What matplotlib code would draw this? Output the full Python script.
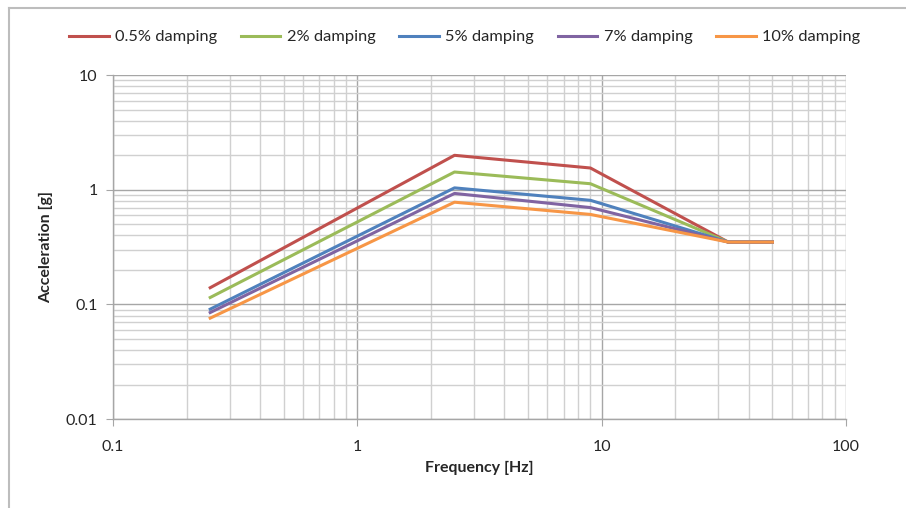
import matplotlib
matplotlib.use("Agg")
import matplotlib.pyplot as plt
from matplotlib.lines import Line2D
from matplotlib.ticker import LogLocator, FixedLocator, NullFormatter

plt.rcParams['font.family'] = ['Lato', 'DejaVu Sans']

# Response spectrum corner frequencies [Hz]
freq = [0.25, 2.5, 9, 33, 50]

# Spectral acceleration [g] per damping ratio
acc_05 = [0.14, 2.0, 1.55, 0.35, 0.35]
acc_2 = [0.115, 1.43, 1.13, 0.35, 0.35]
acc_5 = [0.091, 1.04, 0.81, 0.35, 0.35]
acc_7 = [0.085, 0.93, 0.70, 0.35, 0.35]
acc_10 = [0.076, 0.78, 0.61, 0.35, 0.35]

series_labels = ["0.5% damping", "2% damping", "5% damping", "7% damping", "10% damping"]
series_values = [acc_05, acc_2, acc_5, acc_7, acc_10]
series_colors = ["#C0504D", "#9BBB59", "#4F81BD", "#8064A2", "#F79646"]

x_ticks = [0.1, 1, 10, 100]
x_tick_labels = ["0.1", "1", "10", "100"]
y_ticks = [0.01, 0.1, 1, 10]
y_tick_labels = ["0.01", "0.1", "1", "10"]

fig = plt.figure(figsize=(9.06, 5.08), dpi=100)
ax = fig.add_axes([0.1247, 0.175, 0.8090, 0.677])

for vals, lab, col in zip(series_values, series_labels, series_colors):
    ax.plot(freq, vals, color=col, lw=2.2, label=lab, solid_joinstyle='round')

ax.set_xscale('log')
ax.set_yscale('log')
ax.set_xlim(0.1, 100)
ax.set_ylim(0.01, 10)

ax.xaxis.set_major_locator(FixedLocator(x_ticks))
ax.yaxis.set_major_locator(FixedLocator(y_ticks))
ax.set_xticklabels(x_tick_labels)
ax.set_yticklabels(y_tick_labels)
ax.xaxis.set_minor_locator(LogLocator(base=10, subs=range(2, 10)))
ax.yaxis.set_minor_locator(LogLocator(base=10, subs=range(2, 10)))
ax.xaxis.set_minor_formatter(NullFormatter())
ax.yaxis.set_minor_formatter(NullFormatter())

ax.grid(which='major', color='#A6A6A6', lw=1.0)
ax.grid(which='minor', color='#D0D0D0', lw=1.0)
ax.set_axisbelow(True)

for s in ['top', 'right']:
    ax.spines[s].set_visible(False)
for s in ['left', 'bottom']:
    ax.spines[s].set_color('#A6A6A6')
    ax.spines[s].set_linewidth(1.0)

ax.tick_params(which='major', length=5, color='#A6A6A6', labelsize=11.5,
               labelcolor='#262626')
ax.tick_params(axis='x', which='major', pad=10)
ax.tick_params(axis='y', which='major', pad=6)
ax.tick_params(which='minor', length=0)

ax.set_xlabel("Frequency [Hz]", fontsize=11.5, fontweight='bold', color='#262626', labelpad=5)
ax.set_ylabel("Acceleration [g]", fontsize=11.5, fontweight='bold', color='#262626', labelpad=9)

fig.legend(loc='center', bbox_to_anchor=(0.513, 0.927), ncol=5, frameon=False,
           fontsize=11.8, handlelength=2.4, handletextpad=0.4, columnspacing=1.45,
           labelcolor='#262626')

# chart area outline (left and top edges)
fig.add_artist(Line2D([9 / 906, 9 / 906], [0, 1 - 8 / 508], transform=fig.transFigure,
                      color='#BDBDBD', lw=1.5))
fig.add_artist(Line2D([9 / 906, 1], [1 - 8 / 508, 1 - 8 / 508], transform=fig.transFigure,
                      color='#BDBDBD', lw=1.5))

fig.savefig("out.png", dpi=100, facecolor='white')
